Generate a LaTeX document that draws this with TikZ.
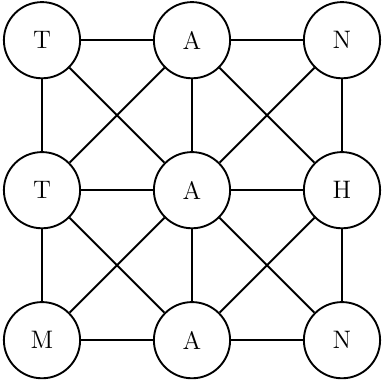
\documentclass[tikz,border=0pt]{standalone}
\usetikzlibrary{positioning}
\tikzset{
  letter/.style={draw,circle,minimum size=1.27cm,inner sep=0pt,
    font=\large,line width=0.9pt,fill=white},
  edge/.style={line width=0.9pt},
}
\begin{document}
\begin{tikzpicture}[node distance=2.5cm, on grid]
  \useasboundingbox (-0.7,0.67) rectangle (5.667,-5.65);
  % top row
  \node[letter] (t1) at (0,0) {T};
  \node[letter,right=of t1] (a1) {A};
  \node[letter,right=of a1] (n1) {N};
  % middle row
  \node[letter,below=of t1] (t2) {T};
  \node[letter,right=of t2] (a2) {A};
  \node[letter,right=of a2] (h2) {H};
  % bottom row
  \node[letter,below=of t2] (m3) {M};
  \node[letter,right=of m3] (a3) {A};
  \node[letter,right=of a3] (n3) {N};
  % rows and columns
  \draw[edge] (t1) -- (a1) -- (n1);
  \draw[edge] (t2) -- (a2) -- (h2);
  \draw[edge] (m3) -- (a3) -- (n3);
  \draw[edge] (t1) -- (t2) -- (m3);
  \draw[edge] (a1) -- (a2) -- (a3);
  \draw[edge] (n1) -- (h2) -- (n3);
  % diagonals
  \draw[edge] (t1) -- (a2) -- (n3);
  \draw[edge] (n1) -- (a2) -- (m3);
  \draw[edge] (a1) -- (t2) -- (a3);
  \draw[edge] (a1) -- (h2) -- (a3);
\end{tikzpicture}
\end{document}
